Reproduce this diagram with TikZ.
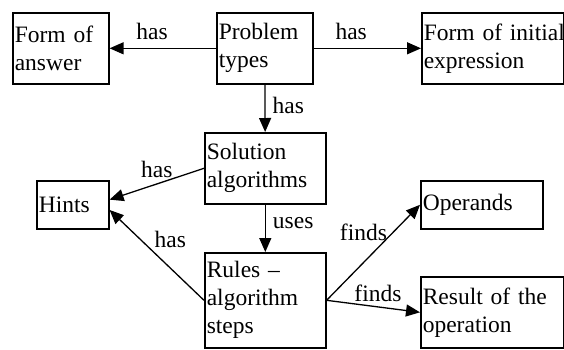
\documentclass[tikz,border=0pt]{standalone}
\usepackage{fontspec}
\setmainfont{Liberation Serif}
\usetikzlibrary{arrows.meta, positioning}
\hyphenpenalty=10000
\exhyphenpenalty=10000

\begin{document}
\begin{tikzpicture}[
  x=1pt, y=-1pt,
  cbox/.style={draw, line width=1.6pt, anchor=north west, align=left, inner sep=2pt, font=\fontsize{23.5}{28}\selectfont},
  rel/.style={line width=1.3pt, -{Triangle[length=14pt, width=12pt]}},
  lbl/.style={font=\fontsize{23.5}{28}\selectfont, inner sep=2pt}
]
  \useasboundingbox[fill=white] (0,0) rectangle (564,349);
  \node[cbox, minimum width=96pt, minimum height=71pt, text width=92pt] (answer) at (12,12) {Form of\\answer};
  \node[cbox, minimum width=96pt, minimum height=71pt, text width=92pt] (ptypes) at (216,12) {Problem\\types};
  \node[cbox, minimum width=142pt, minimum height=71pt, text width=138pt] (initial) at (421,12) {\mbox{Form of initial}\\expression};
  \node[cbox, minimum width=121pt, minimum height=71pt, text width=117pt] (solalg) at (204,132) {Solution\\algorithms};
  \node[cbox, minimum width=72pt, minimum height=48pt, text width=68pt] (hints) at (36,180) {Hints};
  \node[cbox, minimum width=121pt, minimum height=95pt, text width=117pt] (rules) at (204,252) {Rules --\\algorithm\\steps};
  \node[cbox, minimum width=122pt, minimum height=48pt, text width=118pt] (operands) at (420,180) {Operands};
  \node[cbox, minimum width=143pt, minimum height=71pt, text width=139pt] (result) at (420,276) {Result of the\\operation};

  \draw[rel] (ptypes) -- node[lbl, above=6pt, pos=0.6] {has} (answer);
  \draw[rel] (ptypes) -- node[lbl, above=6pt, pos=0.35] {has} (initial);
  \draw[rel] (ptypes) -- node[lbl, right=5pt, pos=0.45] {has} (solalg);
  \draw[rel] (solalg.west) -- node[lbl, above=4pt, pos=0.5] {has} (hints.8);
  \draw[rel] (rules.west) -- node[lbl, above right, pos=0.55] {has} (hints.-8);
  \draw[rel] (solalg) -- node[lbl, right=5pt, pos=0.4] {uses} (rules);
  \draw[rel] (rules.east) -- node[lbl, above left, pos=0.6, xshift=7pt] {finds} (operands.west);
  \draw[rel] (rules.east) -- node[lbl, above=3pt, pos=0.55] {finds} (result.west);
\end{tikzpicture}
\end{document}
